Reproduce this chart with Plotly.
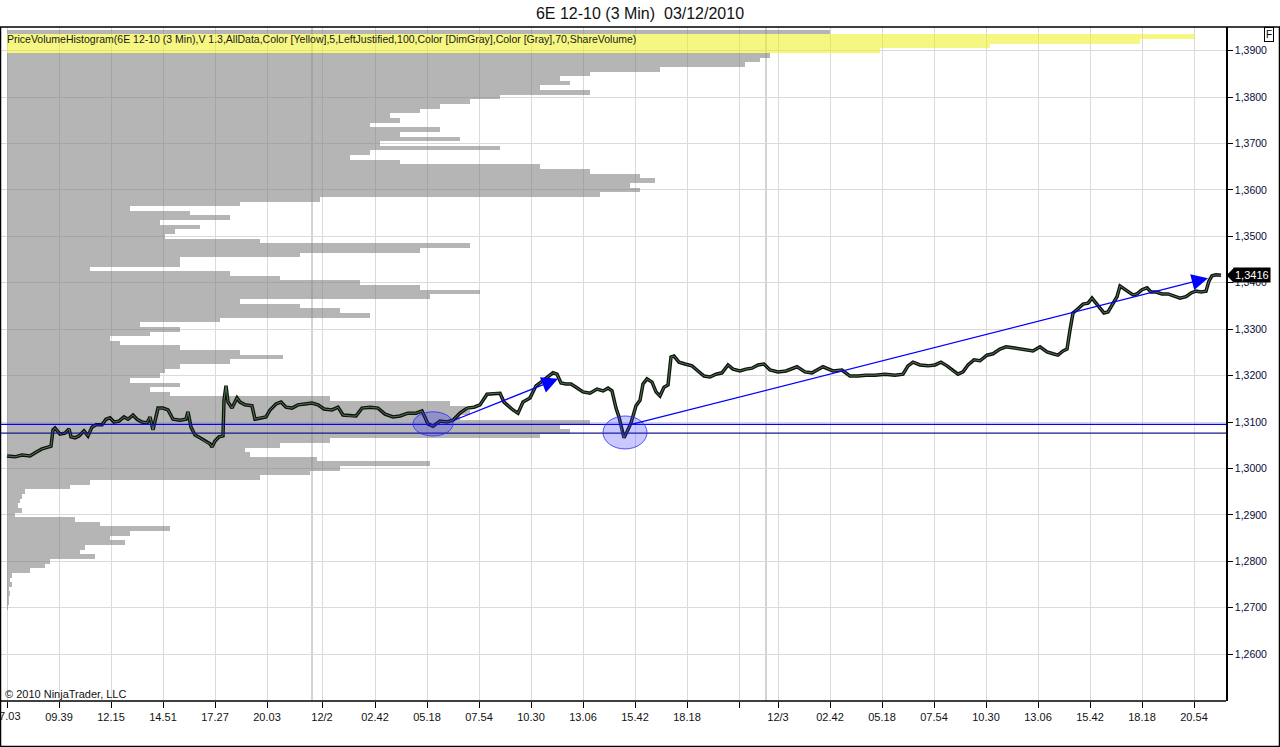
import plotly.graph_objects as go

# ---------------- data ----------------
title_text = "6E 12-10 (3 Min)  03/12/2010"
indicator_label = ("PriceVolumeHistogram(6E 12-10 (3 Min),V 1.3,AllData,Color [Yellow],5,"
                   "LeftJustified,100,Color [DimGray],Color [Gray],70,ShareVolume)")

# x axis: 3-minute bar index
x_tick_bars = [0, 52, 104, 156, 208, 260, 315, 368, 420, 472, 524, 576, 628, 680, 732,
               771, 823, 875, 927, 979, 1031, 1083, 1135, 1187]
x_tick_labels = ["07.03", "09.39", "12.15", "14.51", "17.27", "20.03", "12/2", "02.42", "05.18",
                 "07.54", "10.30", "13.06", "15.42", "18.18", "", "12/3", "02.42", "05.18",
                 "07.54", "10.30", "13.06", "15.42", "18.18", "20.54"]
session_break_bars = [305, 759]

y_tick_values = [1.26, 1.27, 1.28, 1.29, 1.30, 1.31, 1.32, 1.33, 1.34, 1.35, 1.36, 1.37, 1.38, 1.39]
y_tick_labels = ["1,2600", "1,2700", "1,2800", "1,2900", "1,3000", "1,3100", "1,3200",
                 "1,3300", "1,3400", "1,3500", "1,3600", "1,3700", "1,3800", "1,3900"]

# price path (bar index, close)
price_bars = [0, 8, 15, 23, 29, 35, 41, 44, 46, 48, 53, 58, 62, 64, 68, 72, 77, 81, 85, 89, 95, 99,
              103, 107, 112, 117, 121, 126, 130, 135, 140, 143, 146, 149, 151, 156, 161, 166, 173,
              179, 181, 184, 188, 193, 199, 203, 205, 208, 212, 216, 217, 219, 221, 225, 230, 233,
              238, 245, 248, 253, 259, 263, 269, 274, 279, 285, 291, 298, 305, 311, 317, 325, 331,
              336, 343, 349, 355, 363, 371, 378, 386, 393, 401, 409, 415, 421, 426, 433, 440, 446,
              453, 460, 467, 473, 480, 488, 493, 497, 500, 506, 511, 516, 523, 529, 534, 541, 546,
              550, 554, 559, 564, 569, 576, 583, 590, 596, 601, 605, 609, 612, 615, 617, 620, 624,
              629, 633, 636, 640, 645, 649, 653, 657, 661, 664, 667, 672, 678, 685, 691, 697, 703,
              709, 715, 721, 726, 733, 739, 745, 751, 757, 763, 771, 779, 790, 798, 805, 816, 826,
              835, 843, 851, 859, 868, 878, 888, 896, 901, 906, 913, 921, 928, 934, 940, 946, 951,
              956, 961, 967, 973, 980, 986, 993, 999, 1006, 1013, 1020, 1026, 1033, 1040, 1046,
              1051, 1056, 1060, 1063, 1066, 1071, 1076, 1081, 1085, 1089, 1093, 1097, 1101, 1106,
              1110, 1113, 1117, 1121, 1126, 1130, 1135, 1140, 1144, 1149, 1155, 1161, 1167, 1173,
              1179, 1184, 1189, 1194, 1199, 1202, 1205, 1209, 1214]
price_close = [1.3027, 1.3025, 1.3029, 1.3027, 1.3035, 1.3042, 1.3046, 1.3048, 1.3083, 1.3087,
               1.3074, 1.3076, 1.3085, 1.3068, 1.3066, 1.3070, 1.3081, 1.3070, 1.3089, 1.3094,
               1.3094, 1.3106, 1.3109, 1.3100, 1.3102, 1.3111, 1.3106, 1.3115, 1.3106, 1.3100,
               1.3098, 1.3111, 1.3083, 1.3113, 1.3130, 1.3130, 1.3126, 1.3106, 1.3104, 1.3106,
               1.3122, 1.3089, 1.3072, 1.3066, 1.3057, 1.3053, 1.3046, 1.3059, 1.3068, 1.3070,
               1.3147, 1.3178, 1.3143, 1.3130, 1.3152, 1.3143, 1.3137, 1.3135, 1.3106, 1.3109,
               1.3111, 1.3126, 1.3139, 1.3143, 1.3132, 1.3130, 1.3137, 1.3139, 1.3141, 1.3137,
               1.3128, 1.3126, 1.3132, 1.3115, 1.3113, 1.3113, 1.3130, 1.3132, 1.3130, 1.3117,
               1.3111, 1.3113, 1.3119, 1.3119, 1.3124, 1.3096, 1.3091, 1.3102, 1.3100, 1.3104,
               1.3119, 1.3130, 1.3132, 1.3137, 1.3160, 1.3162, 1.3162, 1.3143, 1.3137, 1.3126,
               1.3119, 1.3143, 1.3152, 1.3178, 1.3186, 1.3197, 1.3206, 1.3203, 1.3184, 1.3182,
               1.3182, 1.3175, 1.3165, 1.3162, 1.3171, 1.3167, 1.3173, 1.3167, 1.3130, 1.3111,
               1.3079, 1.3066, 1.3079, 1.3098, 1.3135, 1.3147, 1.3182, 1.3193, 1.3186, 1.3165,
               1.3156, 1.3175, 1.3180, 1.3240, 1.3242, 1.3229, 1.3225, 1.3221, 1.3210, 1.3199,
               1.3197, 1.3203, 1.3206, 1.3223, 1.3214, 1.3210, 1.3214, 1.3216, 1.3223, 1.3225,
               1.3212, 1.3208, 1.3210, 1.3219, 1.3208, 1.3206, 1.3219, 1.3210, 1.3212, 1.3199,
               1.3199, 1.3201, 1.3201, 1.3203, 1.3201, 1.3203, 1.3221, 1.3229, 1.3223, 1.3221,
               1.3223, 1.3229, 1.3221, 1.3210, 1.3203, 1.3208, 1.3223, 1.3234, 1.3232, 1.3244,
               1.3247, 1.3257, 1.3262, 1.3260, 1.3257, 1.3255, 1.3253, 1.3262, 1.3251, 1.3247,
               1.3244, 1.3253, 1.3257, 1.3298, 1.3335, 1.3344, 1.3354, 1.3356, 1.3367, 1.3356,
               1.3346, 1.3335, 1.3337, 1.3356, 1.3370, 1.3393, 1.3387, 1.3380, 1.3374, 1.3376,
               1.3385, 1.3389, 1.3380, 1.3380, 1.3376, 1.3376, 1.3372, 1.3367, 1.3370, 1.3378,
               1.3382, 1.3380, 1.3382, 1.3404, 1.3415, 1.3417, 1.3416]
last_price = 1.3416

# price-volume profile, one row per 10 ticks, from 1,3940 downwards (relative volume)
profile_top = 1.3940
profile_step = 0.0010
profile_volume = [823, 1188, 1133, 983, 873, 763, 753, 738, 653, 583, 553, 563, 533, 583, 493,
                  463, 433, 413, 383, 393, 363, 433, 393, 453, 373, 493, 363, 343, 393, 533,
                  583, 633, 648, 623, 633, 593, 313, 233, 123, 183, 223, 153, 193, 168, 158,
                  253, 463, 413, 293, 173, 173, 83, 223, 273, 353, 413, 473, 423, 233, 293,
                  333, 363, 213, 133, 173, 143, 103, 113, 173, 233, 276, 223, 173, 158, 153,
                  123, 173, 143, 163, 323, 443, 458, 463, 453, 583, 553, 563, 533, 323, 273,
                  238, 243, 310, 423, 333, 303, 253, 83, 63, 18, 15, 13, 11, 15, 8, 68, 93,
                  163, 123, 103, 118, 78, 73, 88, 43, 38, 23, 5, 3, 5, 2, 3, 2, 2, 1]
highlight_count = 4

# drawn studies
level_lines = [1.3095, 1.3076]
ellipses = [  # (bar0, bar1, price0, price1)
    (406, 446, 1.3070, 1.3122),
    (596, 640, 1.3042, 1.3113),
]
arrows = [  # (bar_start, price_start, bar_end, price_end)
    (445, 1.3102, 551, 1.3193),
    (623, 1.3094, 1201, 1.3410),
]

# ---------------- figure ----------------
W, H = 1280, 747
ML, MR, MT, MB = 1, 54, 27, 46
plot_w = W - ML - MR
plot_h = H - MT - MB

profile_levels = [round(profile_top - profile_step * i, 4) for i in range(len(profile_volume))]
ranked = sorted(range(len(profile_volume)), key=lambda i: -profile_volume[i])[:highlight_count]
profile_colors = ["rgba(238,238,30,0.55)" if i in ranked else "rgba(128,128,128,0.58)"
                  for i in range(len(profile_volume))]

fig = go.Figure()
fig.add_trace(go.Bar(
    y=profile_levels, x=profile_volume, base=0, orientation="h", width=profile_step,
    marker=dict(color=profile_colors, line=dict(width=0)), hoverinfo="skip", showlegend=False))

fig.add_trace(go.Scatter(
    x=price_bars, y=price_close, mode="lines",
    line=dict(color="#111111", width=3.5), hoverinfo="skip", showlegend=False))
fig.add_trace(go.Scatter(
    x=price_bars, y=price_close, mode="lines",
    line=dict(color="#4a7a4a", width=1), hoverinfo="skip", showlegend=False))

shapes = []
for b in session_break_bars:
    shapes.append(dict(type="line", xref="x", yref="paper", x0=b, x1=b, y0=0, y1=1,
                       line=dict(color="#a8a8a8", width=1), layer="below"))
for lv, col in zip(level_lines, ["#0000ff", "#1a1a8c"]):
    shapes.append(dict(type="line", xref="paper", yref="y", x0=0, x1=1, y0=lv, y1=lv,
                       line=dict(color=col, width=1.3)))
for (b0, b1, p0, p1) in ellipses:
    shapes.append(dict(type="circle", xref="x", yref="y", x0=b0, x1=b1, y0=p0, y1=p1,
                       fillcolor="rgba(40,40,255,0.25)", line=dict(color="rgba(40,40,255,0.8)", width=1)))

# outer frame
px = lambda p: (p - ML) / plot_w
py = lambda p: (H - MB - p) / plot_h
shapes.append(dict(type="rect", xref="paper", yref="paper", x0=px(0.5), x1=px(W - 0.5),
                   y0=py(H - 0.5), y1=py(MT), line=dict(color="black", width=1.5)))
shapes.append(dict(type="line", xref="paper", yref="paper", x0=px(0.5), x1=1, y0=0, y1=0,
                   line=dict(color="black", width=1.5)))
# price tag pointer
shapes.append(dict(type="path", xref="paper", yref="y",
                   path=f"M {px(1226.5)},{last_price} L {px(1234)},{last_price + 0.00165} "
                        f"L {px(1234)},{last_price - 0.00165} Z",
                   fillcolor="black", line=dict(color="black", width=0)))

annotations = []
for (b0, p0, b1, p1) in arrows:
    annotations.append(dict(x=b1, y=p1, ax=b0, ay=p0, xref="x", yref="y", axref="x", ayref="y",
                            showarrow=True, arrowhead=2, arrowsize=2.6, arrowwidth=1.25,
                            arrowcolor="#0000ff", text=""))
annotations.append(dict(x=px(5), y=py(39), xref="paper", yref="paper", xanchor="left",
                        yanchor="middle", text=indicator_label, showarrow=False,
                        font=dict(family="Liberation Sans", size=10.5, color="#1a1a1a")))
annotations.append(dict(x=px(3), y=py(694), xref="paper", yref="paper", xanchor="left",
                        yanchor="middle", text="© 2010 NinjaTrader, LLC", showarrow=False,
                        font=dict(family="Liberation Sans", size=11, color="#111111")))
annotations.append(dict(x=px(1233), y=last_price, xref="paper", yref="y", xanchor="left",
                        yanchor="middle", text="1,3416", showarrow=False, bgcolor="black",
                        borderpad=1, font=dict(family="Liberation Sans", size=11, color="white")))
annotations.append(dict(x=px(1268.5), y=py(35), xref="paper", yref="paper", xanchor="center",
                        yanchor="middle", text="F", showarrow=False, bordercolor="black",
                        borderwidth=1, borderpad=1, bgcolor="white",
                        font=dict(family="Liberation Sans", size=10, color="black")))
# first tick label sits on the left edge of the chart and is cut by it
annotations.append(dict(x=x_tick_bars[0], y=py(716), xref="x", yref="paper", xanchor="center",
                        yanchor="middle", text=x_tick_labels[0], showarrow=False,
                        font=dict(family="Liberation Sans", size=11, color="#111111")))

fig.update_layout(
    width=W, height=H, margin=dict(l=ML, r=MR, t=MT, b=MB),
    paper_bgcolor="white", plot_bgcolor="white",
    title=dict(text=title_text, x=0.5, xanchor="center", y=1 - 13 / H, yanchor="middle",
               font=dict(family="Liberation Sans", size=16, color="#111111")),
    shapes=shapes, annotations=annotations, bargap=0,
    xaxis=dict(range=[-6, 1219], tickmode="array", tickvals=x_tick_bars, ticktext=x_tick_labels,
               showgrid=True, gridcolor="#dadada", gridwidth=1, zeroline=False,
               ticks="outside", ticklen=6, tickcolor="black", showline=False,
               tickfont=dict(family="Liberation Sans", size=11, color="#111111"), fixedrange=True),
    yaxis=dict(range=[1.2499, 1.3951], side="right", tickmode="array", tickvals=y_tick_values,
               ticktext=y_tick_labels, showgrid=True, gridcolor="#dadada", gridwidth=1,
               zeroline=False, ticks="outside", ticklen=5, tickcolor="black", showline=True,
               linecolor="black", linewidth=1.5,
               tickfont=dict(family="Liberation Sans", size=10.5, color="#0a0a3a"), fixedrange=True),
)

fig.write_html("out.html", config={"displayModeBar": False},
               post_script="document.body.style.margin='0';document.body.style.overflow='hidden';")
